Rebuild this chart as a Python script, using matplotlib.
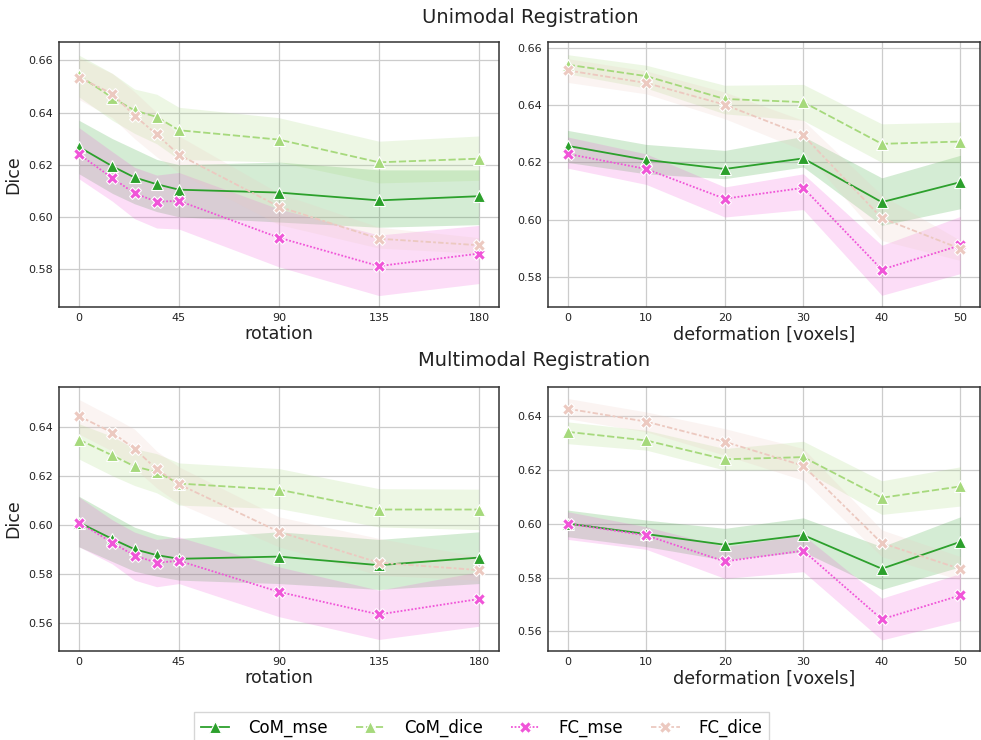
import numpy as np
import matplotlib.pyplot as plt

rot = [0, 15, 25, 35, 45, 90, 135, 180]
deform = [0, 10, 20, 30, 40, 50]
names = ['CoM_mse', 'CoM_dice', 'FC_mse', 'FC_dice']

# unimodal, rotation: mean, lower, upper
uni_rot = {
    'CoM_mse': ([0.6268, 0.6194, 0.6151, 0.6125, 0.6104, 0.6093, 0.6063, 0.6079],
                [0.6165, 0.6090, 0.6050, 0.6020, 0.6000, 0.5980, 0.5960, 0.5970],
                [0.6370, 0.6300, 0.6260, 0.6220, 0.6200, 0.6210, 0.6180, 0.6180]),
    'CoM_dice': ([0.6542, 0.6457, 0.6408, 0.6383, 0.6332, 0.6296, 0.6209, 0.6223],
                 [0.6460, 0.6370, 0.6320, 0.6280, 0.6220, 0.6210, 0.6130, 0.6140],
                 [0.6620, 0.6550, 0.6490, 0.6470, 0.6420, 0.6380, 0.6290, 0.6310]),
    'FC_mse': ([0.6240, 0.6149, 0.6090, 0.6058, 0.6061, 0.5920, 0.5811, 0.5859],
               [0.6146, 0.6060, 0.5993, 0.5957, 0.5953, 0.5808, 0.5698, 0.5744],
               [0.6342, 0.6250, 0.6190, 0.6160, 0.6170, 0.6030, 0.5930, 0.5967]),
    'FC_dice': ([0.6534, 0.6472, 0.6388, 0.6316, 0.6238, 0.6039, 0.5916, 0.5891],
                [0.6450, 0.6380, 0.6300, 0.6230, 0.6170, 0.5970, 0.5880, 0.5860],
                [0.6610, 0.6550, 0.6480, 0.6400, 0.6310, 0.6090, 0.5960, 0.5920]),
}

# unimodal, deformation
uni_def = {
    'CoM_mse': ([0.6258, 0.6209, 0.6177, 0.6214, 0.6061, 0.6131],
                [0.6200, 0.6160, 0.6143, 0.6184, 0.5980, 0.6038],
                [0.6312, 0.6263, 0.6242, 0.6291, 0.6146, 0.6225]),
    'CoM_dice': ([0.6542, 0.6502, 0.6422, 0.6411, 0.6265, 0.6273],
                 [0.6510, 0.6460, 0.6370, 0.6347, 0.6200, 0.6200],
                 [0.6577, 0.6540, 0.6470, 0.6473, 0.6335, 0.6341]),
    'FC_mse': ([0.6230, 0.6177, 0.6073, 0.6111, 0.5825, 0.5910],
               [0.6180, 0.6123, 0.6009, 0.6035, 0.5735, 0.5811],
               [0.6289, 0.6230, 0.6114, 0.6160, 0.5910, 0.6011]),
    'FC_dice': ([0.6522, 0.6478, 0.6402, 0.6295, 0.6005, 0.5898],
                [0.6480, 0.6440, 0.6353, 0.6242, 0.5927, 0.5857],
                [0.6563, 0.6520, 0.6446, 0.6347, 0.6085, 0.5927]),
}

# multimodal, rotation
multi_rot = {
    'CoM_mse': ([0.6009, 0.5942, 0.5900, 0.5876, 0.5861, 0.5870, 0.5835, 0.5866],
                [0.5910, 0.5850, 0.5810, 0.5790, 0.5774, 0.5760, 0.5736, 0.5760],
                [0.6116, 0.6040, 0.5990, 0.5960, 0.5944, 0.5971, 0.5940, 0.5971]),
    'CoM_dice': ([0.6347, 0.6283, 0.6238, 0.6215, 0.6168, 0.6143, 0.6062, 0.6062],
                 [0.6268, 0.6200, 0.6160, 0.6130, 0.6080, 0.6066, 0.5991, 0.5980],
                 [0.6412, 0.6360, 0.6310, 0.6290, 0.6252, 0.6229, 0.6147, 0.6145]),
    'FC_mse': ([0.6009, 0.5927, 0.5874, 0.5845, 0.5853, 0.5726, 0.5634, 0.5697],
               [0.5910, 0.5840, 0.5774, 0.5747, 0.5760, 0.5625, 0.5532, 0.5586],
               [0.6113, 0.6020, 0.5970, 0.5940, 0.5950, 0.5828, 0.5733, 0.5808]),
    'FC_dice': ([0.6443, 0.6376, 0.6310, 0.6226, 0.6165, 0.5971, 0.5845, 0.5815],
                [0.6370, 0.6300, 0.6230, 0.6150, 0.6086, 0.5910, 0.5794, 0.5774],
                [0.6511, 0.6440, 0.6390, 0.6300, 0.6236, 0.6032, 0.5944, 0.5869]),
}

# multimodal, deformation
multi_def = {
    'CoM_mse': ([0.6001, 0.5962, 0.5922, 0.5958, 0.5833, 0.5933],
                [0.5952, 0.5915, 0.5865, 0.5896, 0.5756, 0.5840],
                [0.6051, 0.6014, 0.5983, 0.6022, 0.5915, 0.6026]),
    'CoM_dice': ([0.6342, 0.6310, 0.6240, 0.6248, 0.6097, 0.6139],
                 [0.6298, 0.6274, 0.6200, 0.6200, 0.6035, 0.6066],
                 [0.6379, 0.6348, 0.6280, 0.6307, 0.6160, 0.6212]),
    'FC_mse': ([0.6001, 0.5957, 0.5860, 0.5900, 0.5645, 0.5734],
               [0.5942, 0.5905, 0.5797, 0.5822, 0.5568, 0.5640],
               [0.6045, 0.5989, 0.5915, 0.5958, 0.5723, 0.5815]),
    'FC_dice': ([0.6428, 0.6380, 0.6305, 0.6216, 0.5928, 0.5832],
                [0.6391, 0.6342, 0.6255, 0.6162, 0.5878, 0.5791],
                [0.6466, 0.6416, 0.6354, 0.6280, 0.5977, 0.5878]),
}

colors = {'CoM_mse': '#2ca02c', 'CoM_dice': '#a6d97c',
          'FC_mse': '#f055d8', 'FC_dice': '#ecc9c0'}
markers = {'CoM_mse': '^', 'CoM_dice': '^', 'FC_mse': 'X', 'FC_dice': 'X'}
dashes = {'CoM_mse': (None, None), 'CoM_dice': (4, 1.5),
          'FC_mse': (1, 1), 'FC_dice': (3, 1.25, 1.5, 1.25)}

plt.rcParams['font.family'] = 'DejaVu Sans'
fig = plt.figure(figsize=(9.81, 7.4), dpi=100)

ax1 = fig.add_axes([0.0601, 0.5851, 0.4485, 0.358])
ax2 = fig.add_axes([0.5586, 0.5851, 0.4404, 0.358])
ax3 = fig.add_axes([0.0601, 0.1203, 0.4485, 0.3568])
ax4 = fig.add_axes([0.5586, 0.1203, 0.4404, 0.3568])

panels = [
    (ax1, rot, uni_rot, 'rotation', True, (0.5654, 0.667), [0.58, 0.60, 0.62, 0.64, 0.66]),
    (ax2, deform, uni_def, 'deformation [voxels]', False, (0.5694, 0.6621), [0.58, 0.60, 0.62, 0.64, 0.66]),
    (ax3, rot, multi_rot, 'rotation', True, (0.5485, 0.6562), [0.56, 0.58, 0.60, 0.62, 0.64]),
    (ax4, deform, multi_def, 'deformation [voxels]', False, (0.5527, 0.6509), [0.56, 0.58, 0.60, 0.62, 0.64]),
]

handles = []
for ax, xs, data, xlabel, is_rot, ylim, yticks in panels:
    handles = []
    for n in names:
        mean, lo, hi = data[n]
        ax.fill_between(xs, lo, hi, color=colors[n], alpha=0.2, linewidth=0)
        line, = ax.plot(xs, mean, color=colors[n], marker=markers[n],
                        markersize=8, markeredgecolor='white', markeredgewidth=0.8,
                        linewidth=1.3, label=n)
        if dashes[n][0] is not None:
            line.set_dashes(dashes[n])
        handles.append(line)
    ax.set_ylim(*ylim)
    ax.set_yticks(yticks)
    ax.set_yticklabels(['%.2f' % v for v in yticks])
    if is_rot:
        ax.set_xticks([0, 45, 90, 135, 180])
        ax.set_ylabel('Dice', fontsize=12.5, color='#222222', labelpad=4)
    else:
        ax.set_xticks([0, 10, 20, 30, 40, 50])
    ax.set_xlabel(xlabel, fontsize=12.6, color='#222222', labelpad=1.5)
    ax.grid(True, color='#cccccc', linewidth=0.9)
    ax.set_axisbelow(True)
    ax.tick_params(labelsize=8, length=0, pad=4.5, colors='#222222')
    for s in ax.spines.values():
        s.set_color('#333333')
        s.set_linewidth(1.1)

fig.text(0.541, 0.976, 'Unimodal Registration', ha='center', va='center',
         fontsize=14, color='#222222')
fig.text(0.544, 0.513, 'Multimodal Registration', ha='center', va='center',
         fontsize=14, color='#222222')

fig.legend(handles=handles, labels=names, loc='upper center', ncol=4,
           bbox_to_anchor=(0.491, 0.038), borderaxespad=0, fontsize=12,
           frameon=True, fancybox=False, edgecolor='#cccccc',
           handlelength=1.7, handletextpad=1.15, columnspacing=1.7)

fig.savefig('out.png', dpi=100)
